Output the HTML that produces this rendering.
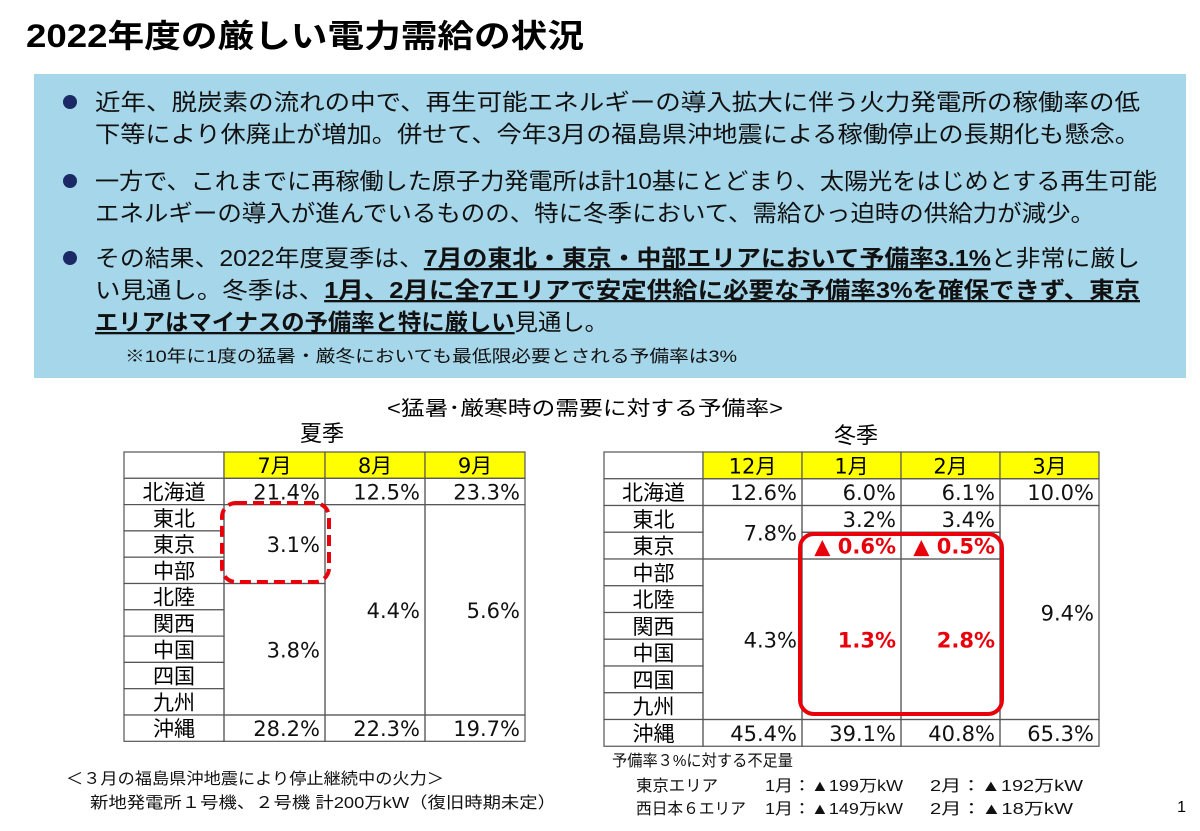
<!DOCTYPE html>
<html><head><meta charset="utf-8">
<style>
html,body{margin:0;padding:0;background:#fff;}
svg{display:block;font-family:"Liberation Sans","Noto Sans CJK JP",sans-serif;}
</style></head>
<body>
<svg id="page" width="1200" height="831" viewBox="0 0 1200 831" xmlns="http://www.w3.org/2000/svg">
<text x="26" y="47" font-size="32" font-weight="bold" fill="#000" textLength="558" lengthAdjust="spacingAndGlyphs">2022年度の厳しい電力需給の状況</text>
<rect x="34" y="74" width="1152" height="304" fill="#a6d6e9"/>
<g font-size="23" fill="#111">
<circle cx="70" cy="102" r="7" fill="#1b2a66"/>
<text x="95" y="110" textLength="1045" lengthAdjust="spacingAndGlyphs">近年、脱炭素の流れの中で、再生可能エネルギーの導入拡大に伴う火力発電所の稼働率の低</text>
<text x="95" y="142" textLength="1045" lengthAdjust="spacingAndGlyphs">下等により休廃止が増加。併せて、今年3月の福島県沖地震による稼働停止の長期化も懸念。</text>
<circle cx="70" cy="181" r="7" fill="#1b2a66"/>
<text x="95" y="189" textLength="1062" lengthAdjust="spacingAndGlyphs">一方で、これまでに再稼働した原子力発電所は計10基にとどまり、太陽光をはじめとする再生可能</text>
<text x="95" y="221" textLength="1000" lengthAdjust="spacingAndGlyphs">エネルギーの導入が進んでいるものの、特に冬季において、需給ひっ迫時の供給力が減少。</text>
<circle cx="70" cy="258" r="7" fill="#1b2a66"/>
<text x="95" y="266" textLength="1045" lengthAdjust="spacingAndGlyphs">その結果、2022年度夏季は、<tspan font-weight="bold" text-decoration="underline">7月の東北・東京・中部エリアにおいて予備率3.1%</tspan>と非常に厳し</text>
<text x="95" y="298" textLength="1045" lengthAdjust="spacingAndGlyphs">い見通し。冬季は、<tspan font-weight="bold" text-decoration="underline">1月、2月に全7エリアで安定供給に必要な予備率3%を確保できず、東京</tspan></text>
<text x="95" y="330" textLength="513" lengthAdjust="spacingAndGlyphs"><tspan font-weight="bold" text-decoration="underline">エリアはマイナスの予備率と特に厳しい</tspan>見通し。</text>
<text x="125" y="362" font-size="17" textLength="612" lengthAdjust="spacingAndGlyphs">※10年に1度の猛暑・厳冬においても最低限必要とされる予備率は3%</text>
</g>
<text x="387" y="415" font-size="20" textLength="396" lengthAdjust="spacingAndGlyphs">&lt;猛暑･厳寒時の需要に対する予備率&gt;</text>
<text x="322" y="441" font-size="22" text-anchor="middle">夏季</text>
<text x="856" y="443" font-size="22" text-anchor="middle">冬季</text>
<g id="tables"></g>
<rect x="222" y="503" width="107" height="79" rx="14" fill="none" stroke="#e8000b" stroke-width="4" stroke-dasharray="11,6"/>
<rect x="800" y="534" width="202" height="180" rx="14" fill="none" stroke="#e8000b" stroke-width="4"/>
<g font-size="16" fill="#111">
<text x="66" y="784" textLength="378" lengthAdjust="spacingAndGlyphs">＜３月の福島県沖地震により停止継続中の火力＞</text>
<text x="90" y="808" textLength="466" lengthAdjust="spacingAndGlyphs">新地発電所１号機、２号機  計200万kW（復旧時期未定）</text>
<text x="612" y="766" textLength="181" lengthAdjust="spacingAndGlyphs">予備率３%に対する不足量</text>
<text x="636" y="791" textLength="82" lengthAdjust="spacingAndGlyphs">東京エリア</text>
<text x="765" y="791" textLength="138" lengthAdjust="spacingAndGlyphs">1月：▲199万kW</text>
<text x="930" y="791" textLength="153" lengthAdjust="spacingAndGlyphs">2月：▲192万kW</text>
<text x="636" y="814" textLength="110" lengthAdjust="spacingAndGlyphs">西日本６エリア</text>
<text x="765" y="814" textLength="138" lengthAdjust="spacingAndGlyphs">1月：▲149万kW</text>
<text x="930" y="814" textLength="143" lengthAdjust="spacingAndGlyphs">2月：▲18万kW</text>
</g>
<text x="1186" y="812" font-size="16" text-anchor="end">1</text>
</svg>
<script>
const regions = ["北海道","東北","東京","中部","北陸","関西","中国","四国","九州","沖縄"];
const summerMonths = ["7月","8月","9月"];
const winterMonths = ["12月","1月","2月","3月"];
// cells: [column index, first row, last row, label, red-bold]
const summerCells = [
  [0,0,0,"21.4%",0],[0,1,3,"3.1%",0],[0,4,8,"3.8%",0],[0,9,9,"28.2%",0],
  [1,0,0,"12.5%",0],[1,1,8,"4.4%",0],[1,9,9,"22.3%",0],
  [2,0,0,"23.3%",0],[2,1,8,"5.6%",0],[2,9,9,"19.7%",0]
];
const winterCells = [
  [0,0,0,"12.6%",0],[0,1,2,"7.8%",0],[0,3,8,"4.3%",0],[0,9,9,"45.4%",0],
  [1,0,0,"6.0%",0],[1,1,1,"3.2%",0],[1,2,2,"▲ 0.6%",1],[1,3,8,"1.3%",1],[1,9,9,"39.1%",0],
  [2,0,0,"6.1%",0],[2,1,1,"3.4%",0],[2,2,2,"▲ 0.5%",1],[2,3,8,"2.8%",1],[2,9,9,"40.8%",0],
  [3,0,0,"10.0%",0],[3,1,8,"9.4%",0],[3,9,9,"65.3%",0]
];
const NS="http://www.w3.org/2000/svg";
const root=document.getElementById('tables');
const TF='"DejaVu Sans","Noto Sans CJK JP",sans-serif';
function mk(tag,attrs,parent){const e=document.createElementNS(NS,tag);for(const k in attrs)e.setAttribute(k,attrs[k]);parent.appendChild(e);return e;}
function drawTable(name,colX,top,rowH,months,cells){
  const g=mk('g',{'font-family':TF},root);
  
  
  const rowY=i=>top+rowH*(i+1);
  const hc=mk('rect',{x:colX[0],y:top,width:colX[1]-colX[0],height:rowH,fill:'#fff',stroke:'#555','stroke-width':1.2},g);
  
  
  months.forEach((m,i)=>{
    const r=mk('rect',{x:colX[i+1],y:top,width:colX[i+2]-colX[i+1],height:rowH,fill:'#ffff00',stroke:'#555','stroke-width':1.2},g);
    
    
    const t=mk('text',{x:(colX[i+1]+colX[i+2])/2,y:top+rowH/2+8,'font-size':21,'text-anchor':'middle'},g);
    t.textContent=m;
    
    
  });
  regions.forEach((reg,i)=>{
    const r=mk('rect',{x:colX[0],y:rowY(i),width:colX[1]-colX[0],height:rowH,fill:'#fff',stroke:'#555','stroke-width':1.2},g);
    
    
    const t=mk('text',{x:(colX[0]+colX[1])/2,y:rowY(i)+rowH/2+8,'font-size':21,'text-anchor':'middle'},g);
    t.textContent=reg;
    
    
  });
  cells.forEach(c=>{
    const x0=colX[c[0]+1],x1=colX[c[0]+2],y0=rowY(c[1]),y1=rowY(c[2]+1);
    const r=mk('rect',{x:x0,y:y0,width:x1-x0,height:y1-y0,fill:'none',stroke:'#555','stroke-width':1.2},g);
    
    
    const t=mk('text',{x:x1-5,y:(y0+y1)/2+8,'font-size':21,'text-anchor':'end',fill:c[4]?'#e8000b':'#111','font-weight':c[4]?'bold':'normal'},g);
    t.textContent=c[3];
    
    
  });
}
drawTable('summer-table',[124,224,325,425,525],452,26.3,summerMonths,summerCells);
drawTable('winter-table',[604,703,802,901,1000,1099],452,26.75,winterMonths,winterCells);
</script>
</body></html>
